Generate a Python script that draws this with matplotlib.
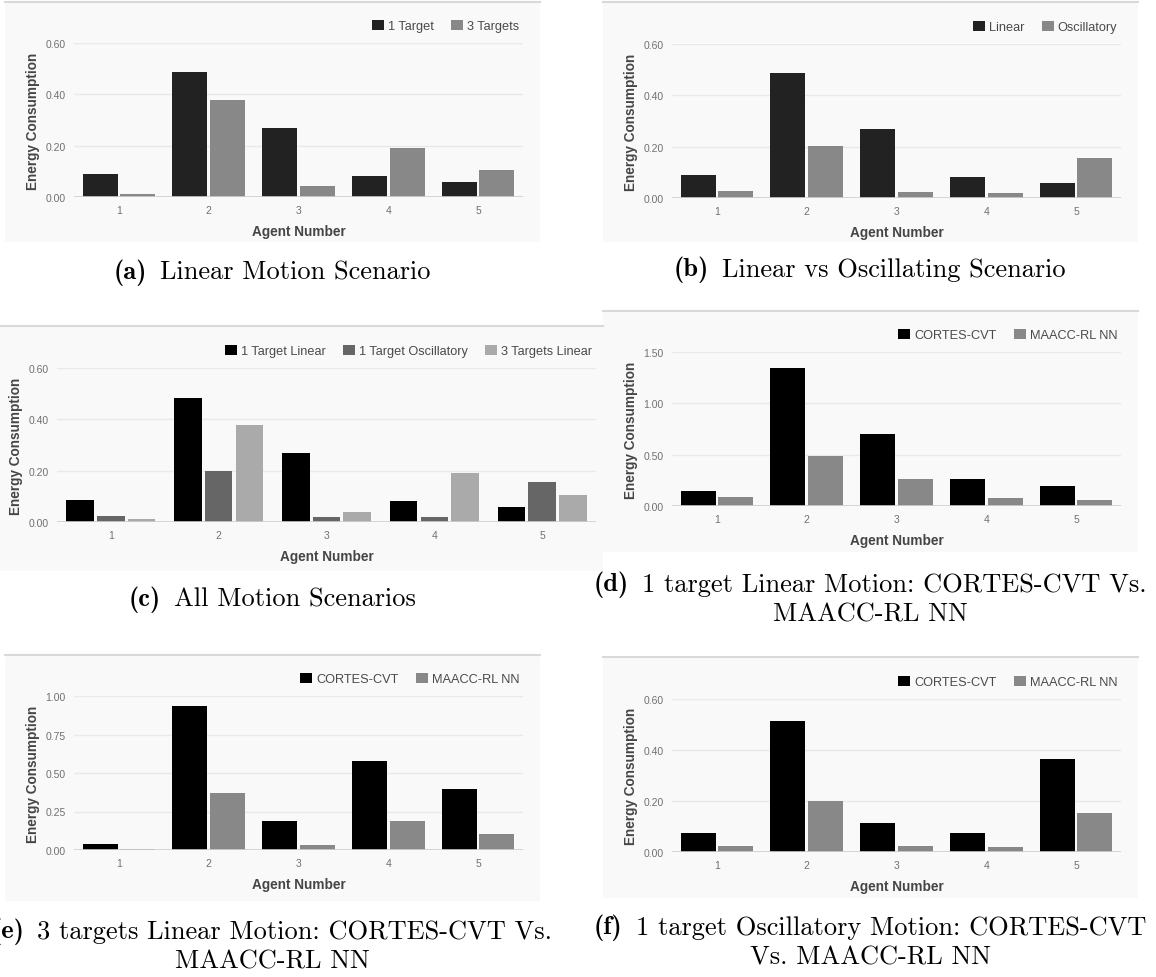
import matplotlib
matplotlib.use("Agg")
import matplotlib.pyplot as plt
from matplotlib.patches import Patch, Rectangle
from matplotlib.lines import Line2D
import numpy as np

# ---------------- data ----------------
agents = ["1", "2", "3", "4", "5"]

a_series = ["1 Target", "3 Targets"]
a_one_target = [0.088, 0.486, 0.270, 0.082, 0.060]
a_three_targets = [0.013, 0.377, 0.042, 0.191, 0.106]

b_series = ["Linear", "Oscillatory"]
b_linear = [0.088, 0.486, 0.270, 0.082, 0.060]
b_oscillatory = [0.026, 0.202, 0.022, 0.020, 0.154]

c_series = ["1 Target Linear", "1 Target Oscillatory", "3 Targets Linear"]
c_one_linear = [0.087, 0.485, 0.269, 0.082, 0.060]
c_one_osc = [0.025, 0.200, 0.021, 0.018, 0.154]
c_three_linear = [0.012, 0.376, 0.040, 0.191, 0.107]

cmp_series = ["CORTES-CVT", "MAACC-RL NN"]
d_cortes = [0.143, 1.344, 0.705, 0.266, 0.195]
d_maacc = [0.088, 0.487, 0.266, 0.081, 0.055]

e_cortes = [0.039, 0.933, 0.190, 0.576, 0.394]
e_maacc = [0.009, 0.368, 0.035, 0.186, 0.102]

f_cortes = [0.076, 0.514, 0.114, 0.076, 0.365]
f_maacc = [0.025, 0.200, 0.022, 0.020, 0.154]

captions = {
    "a": ["Linear Motion Scenario"],
    "b": ["Linear vs Oscillating Scenario"],
    "c": ["All Motion Scenarios"],
    "d": ["1 target Linear Motion: CORTES-CVT Vs.", "MAACC-RL NN"],
    "e": ["3 targets Linear Motion: CORTES-CVT Vs.", "MAACC-RL NN"],
    "f": ["1 target Oscillatory Motion: CORTES-CVT", "Vs. MAACC-RL NN"],
}

# ---------------- styling ----------------
W, H = 1156, 978
SANS = ["Liberation Sans", "DejaVu Sans"]
BG = "#f9f9f9"
TICK_C = "#707070"
LABEL_C = "#454545"

fig = plt.figure(figsize=(W / 100, H / 100), dpi=100)
fig.patch.set_facecolor("white")
renderer = fig.canvas.get_renderer()


def fbox(x0, y0, x1, y1):
    return [x0 / W, 1 - y1 / H, (x1 - x0) / W, (y1 - y0) / H]


def panel_bg(x0, y0, x1, y1):
    fig.add_artist(Rectangle((x0 / W, 1 - y1 / H), (x1 - x0) / W, (y1 - y0) / H,
                             transform=fig.transFigure, facecolor=BG,
                             edgecolor="none", zorder=-10))
    fig.add_artist(Line2D([x0 / W, x1 / W], [1 - y0 / H, 1 - y0 / H],
                          transform=fig.transFigure, color="#d9d9d9", lw=1.5,
                          zorder=-9))


def bar_panel(axbox, series_vals, names, colors, ymax, yticks, widths, offsets):
    ax = fig.add_axes(fbox(*axbox))
    ax.set_facecolor(BG)
    x = np.arange(len(agents))
    handles = []
    for vals, name, col, off in zip(series_vals, names, colors, offsets):
        ax.bar(x + off, vals, width=widths, color=col, edgecolor="none", zorder=3)
        handles.append(Patch(facecolor=col, edgecolor="none", label=name))
    ax.set_xlim(-0.5, len(agents) - 0.5)
    ax.set_ylim(0, ymax)
    ax.set_yticks(yticks)
    ax.set_yticklabels([f"{t:.2f}" for t in yticks])
    ax.set_xticks(x)
    ax.set_xticklabels(agents)
    for s in ax.spines.values():
        s.set_visible(False)
    ax.tick_params(length=0, labelsize=7.5, labelcolor=TICK_C, pad=6)
    for lab in ax.get_xticklabels() + ax.get_yticklabels():
        lab.set_family(SANS)
    ax.grid(axis="y", color="#e9e9e9", lw=1, zorder=0)
    ax.axhline(0, color="#cfcfcf", lw=1.2, zorder=4)
    ax.set_axisbelow(True)
    ax.set_xlabel("Agent Number", fontsize=9.8, fontweight="bold", color=LABEL_C,
                  family=SANS, labelpad=6)
    ax.set_ylabel("Energy Consumption", fontsize=9.8, fontweight="bold",
                  color=LABEL_C, family=SANS, labelpad=4)
    leg = ax.legend(handles=handles, loc="center right",
                    bbox_to_anchor=(1.0 - 4 / (axbox[2] - axbox[0]),
                                    1 + 17 / (axbox[3] - axbox[1])),
                    ncol=len(names), frameon=False, borderpad=0, borderaxespad=0,
                    handlelength=0.95, handleheight=0.8, handletextpad=0.3,
                    columnspacing=1.35, prop={"family": SANS, "size": 9.2})
    for t in leg.get_texts():
        t.set_color("#4a4a4a")
    return ax


def caption(cx, cy, letter, lines, size=19, gap=13):
    for i, line in enumerate(lines):
        y = 1 - (cy + i * 30) / H
        if i == 0:
            t1 = fig.text(0, y, "(" + letter + ")", ha="left", va="center",
                          fontsize=size, family="cmb10", color="black")
            t2 = fig.text(0, y, line, ha="left", va="center",
                          fontsize=size, family="cmr10", color="black")
            w1 = t1.get_window_extent(renderer).width
            w2 = t2.get_window_extent(renderer).width
            x0 = cx - (w1 + gap + w2) / 2
            t1.set_x(x0 / W)
            t2.set_x((x0 + w1 + gap) / W)
        else:
            fig.text(cx / W, y, line, ha="center", va="center",
                     fontsize=size, family="cmr10", color="black")


two_w = 0.39
two_off = [-0.21, 0.21]
three_w = 0.255
three_off = [-0.285, 0.0, 0.285]

# (a)
panel_bg(5, 3, 540, 243)
bar_panel((74, 44, 523, 198), [a_one_target, a_three_targets], a_series,
          ["#222222", "#888888"], 0.6, [0, 0.2, 0.4, 0.6], two_w, two_off)
caption(272, 273, "a", captions["a"])

# (b)
panel_bg(603, 3, 1138, 243)
bar_panel((672, 45, 1121, 199), [b_linear, b_oscillatory], b_series,
          ["#222222", "#888888"], 0.6, [0, 0.2, 0.4, 0.6], two_w, two_off)
caption(870, 270, "b", captions["b"])

# (c)
panel_bg(0, 327, 603, 572)
bar_panel((57, 369, 596, 523), [c_one_linear, c_one_osc, c_three_linear], c_series,
          ["#000000", "#666666", "#aaaaaa"], 0.6, [0, 0.2, 0.4, 0.6],
          three_w, three_off)
caption(272, 600, "c", captions["c"])

# (d)
panel_bg(603, 312, 1138, 553)
bar_panel((672, 353, 1121, 507), [d_cortes, d_maacc], cmp_series,
          ["#000000", "#888888"], 1.5, [0, 0.5, 1.0, 1.5], two_w, two_off)
caption(870, 585, "d", captions["d"])

# (e)
panel_bg(5, 656, 540, 902)
bar_panel((74, 697, 523, 851), [e_cortes, e_maacc], cmp_series,
          ["#000000", "#888888"], 1.0, [0, 0.25, 0.5, 0.75, 1.0], two_w, two_off)
caption(272, 932, "e", captions["e"])

# (f)
panel_bg(603, 658, 1138, 899)
bar_panel((672, 700, 1121, 853), [f_cortes, f_maacc], cmp_series,
          ["#000000", "#888888"], 0.6, [0, 0.2, 0.4, 0.6], two_w, two_off)
caption(870, 928, "f", captions["f"])

fig.savefig("out.png", dpi=100, facecolor="white")
